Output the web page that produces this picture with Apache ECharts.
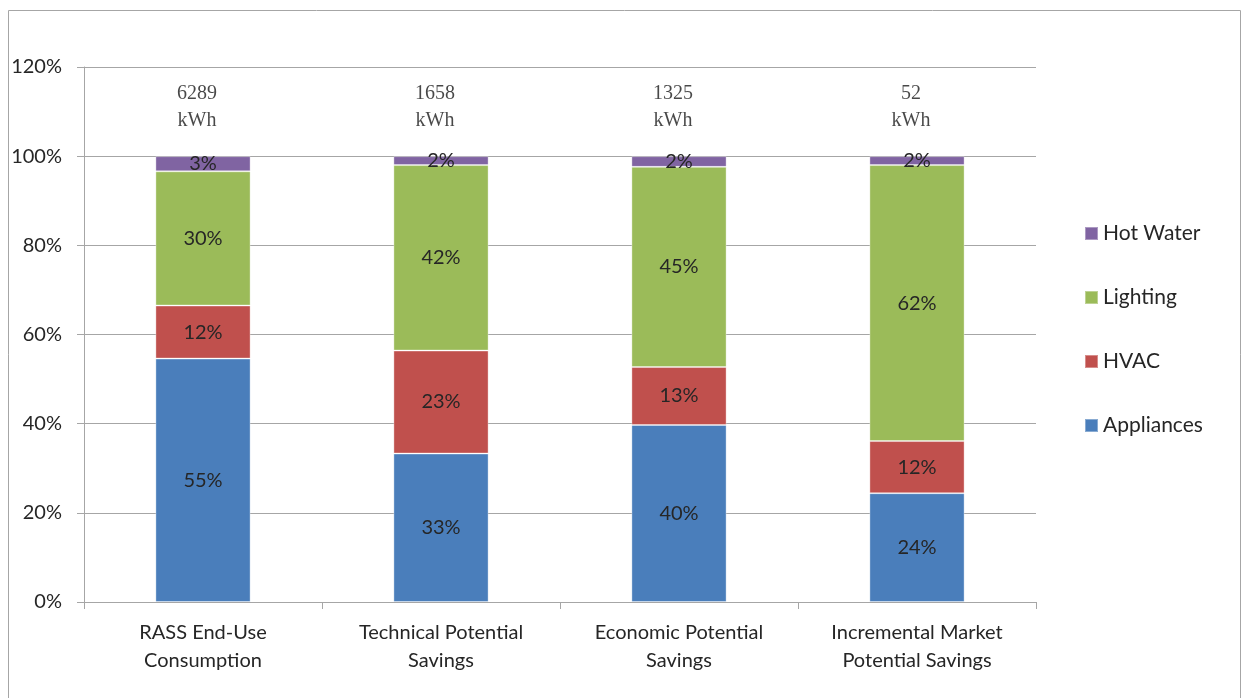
<!DOCTYPE html>
<html>
<head>
<meta charset="utf-8">
<script src="https://cdn.jsdelivr.net/npm/echarts@6/dist/echarts.min.js"></script>
<style>html,body{margin:0;padding:0;background:#fff}#c{width:1244px;height:698px}</style>
</head>
<body>
<div id="c"></div>
<script>
const categories = ['RASS End-Use\nConsumption', 'Technical Potential\nSavings', 'Economic Potential\nSavings', 'Incremental Market\nPotential Savings'];
const appliances = [54.6, 33.3, 39.7, 24.4];
const hvac = [11.9, 23.1, 13.0, 11.7];
const lighting = [30.1, 41.6, 44.9, 61.9];
const hotWater = [3.4, 2.0, 2.4, 2.0];
const totalKWh = [6289, 1658, 1325, 52];
const yTicks = [0, 20, 40, 60, 80, 100, 120];

const chart = echarts.init(document.getElementById('c'));
const pctLabel = {
  show: true, position: 'inside', color: '#262626',
  fontFamily: 'Lato', fontSize: 20,
  formatter: p => Math.round(p.value) + '%'
};
function barSeries(name, data, color) {
  return {
    name, type: 'bar', stack: 'total', data, barWidth: '40%',
    itemStyle: { color, borderColor: 'rgba(255,255,255,0.35)', borderWidth: 1 },
    label: pctLabel, emphasis: { disabled: true }
  };
}
chart.setOption({
  animation: false,
  graphic: [{
    type: 'rect', silent: true,
    shape: { x: 8.5, y: 10.5, width: 1232, height: 700 },
    style: { fill: 'none', stroke: '#a6a6a6', lineWidth: 1 }
  }],
  grid: { left: 84, right: 208, top: 67, bottom: 96 },
  legend: {
    orient: 'vertical', left: 1079, top: 218,
    itemWidth: 13, itemHeight: 13, itemGap: 43,
    icon: 'rect',
    data: ['Hot Water', 'Lighting', 'HVAC', 'Appliances'],
    textStyle: { fontFamily: 'Lato', fontSize: 21, color: '#262626' },
    selectedMode: false
  },
  xAxis: {
    type: 'category', data: categories,
    axisLine: { lineStyle: { color: '#a6a6a6', width: 1 } },
    axisTick: { show: true, length: 7, lineStyle: { color: '#a6a6a6' } },
    axisLabel: { fontFamily: 'Lato', fontSize: 20, color: '#262626', lineHeight: 28, margin: 17 }
  },
  yAxis: {
    type: 'value', min: yTicks[0], max: yTicks[yTicks.length - 1], interval: 20,
    axisLine: { show: true, lineStyle: { color: '#a6a6a6' } },
    axisTick: { show: true, length: 7, lineStyle: { color: '#a6a6a6' } },
    axisLabel: { fontFamily: 'Lato', fontSize: 20, color: '#262626', margin: 22, formatter: '{value}%' },
    splitLine: { lineStyle: { color: '#a6a6a6', width: 1 } }
  },
  series: [
    barSeries('Appliances', appliances, '#4a7ebb'),
    barSeries('HVAC', hvac, '#c0504d'),
    barSeries('Lighting', lighting, '#9bbb59'),
    barSeries('Hot Water', hotWater, '#8064a2'),
    {
      name: 'kWh', type: 'scatter', symbolSize: 0, silent: true,
      data: totalKWh.map((v, i) => [i, 100]),
      label: {
        show: true, position: 'top', distance: 22,
        fontFamily: 'Liberation Serif', fontSize: 20, color: '#1a1a1a', lineHeight: 27,
        align: 'center', offset: [-6, 0],
        formatter: p => totalKWh[p.dataIndex] + '\nkWh'
      },
      z: 5
    }
  ]
});
</script>
</body>
</html>
